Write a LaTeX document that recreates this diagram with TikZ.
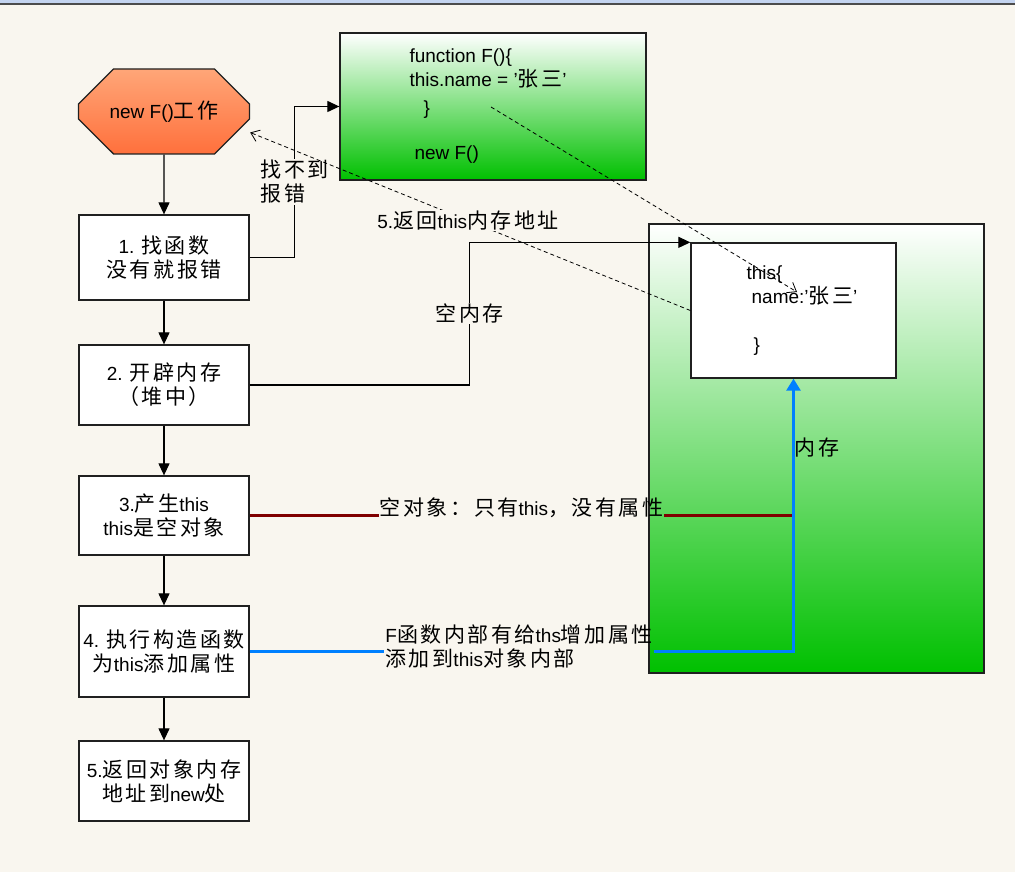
\documentclass[tikz,border=0pt]{standalone}
\usepackage{fontspec}
\setmainfont{Liberation Sans}
\newfontfamily\cjk[LetterSpace=12]{Noto Sans CJK SC}
\newcommand\zh[1]{{\cjk\fontsize{21}{24}\selectfont #1}}
\usetikzlibrary{arrows.meta,shapes.misc,calc}
\definecolor{bg}{RGB}{249,246,239}
\definecolor{topbar}{RGB}{196,212,240}
\definecolor{edge}{RGB}{32,32,32}
\definecolor{darkred}{RGB}{128,0,0}
\definecolor{memblue}{RGB}{0,128,255}
\definecolor{green1}{RGB}{0,192,0}
\definecolor{orange1}{RGB}{255,166,120}
\definecolor{orange2}{RGB}{255,112,60}
\begin{document}
\begin{tikzpicture}[x=1pt,y=-1pt,
    font=\fontsize{19}{24}\selectfont,
    box/.style={draw=edge,line width=1.3pt,fill=white,minimum width=170pt,inner xsep=2pt,align=center},
    greenbox/.style={draw=edge,line width=1.3pt,top color=white,bottom color=green1},
    flow/.style={line width=1.2pt,-{Triangle[width=11pt,length=12pt]}},
    ret/.style={line width=0.8pt,dash pattern=on 4pt off 3pt,-{Straight Barb[length=8pt,width=12pt]}},
    lbl/.style={fill=bg,inner sep=1pt,align=left}]
  \useasboundingbox (0,0) rectangle (1015,872);
  \fill[bg] (0,0) rectangle (1015,872);
  \fill[topbar] (0,0) rectangle (1015,3.3);
  \draw[black!70,line width=2pt] (0,4.3) -- (1015,4.3);
  % steps of new
  \node[chamfered rectangle,chamfered rectangle xsep=29pt,chamfered rectangle ysep=21pt,
    draw=edge,line width=1.3pt,top color=orange1,bottom color=orange2,
    minimum width=171pt,minimum height=85pt] (s) at (164,111.5) {new F()\zh{工作}};
  \node[box,minimum height=85pt] (b1) at (164,257.5) {1. \zh{找函数}\\\zh{没有就报错}};
  \node[box,minimum height=80pt] (b2) at (164,385) {2. \zh{开辟内存}\\\zh{（堆中）}};
  \node[box,minimum height=79pt] (b3) at (164,515.5) {3.\zh{产生}this\\this\zh{是空对象}};
  \node[box,minimum height=91pt] (b4) at (164,651.5) {4. \zh{执行构造函数}\\\zh{为}this\zh{添加属性}};
  \node[box,minimum height=80pt] (b5) at (164,781) {5.\zh{返回对象内存}\\\zh{地址到}new\zh{处}};
  \draw[flow] (s) -- (b1);
  \draw[flow] (b1) -- (b2);
  \draw[flow] (b2) -- (b3);
  \draw[flow] (b3) -- (b4);
  \draw[flow] (b4) -- (b5);
  % function and heap
  \node[greenbox,minimum width=306pt,minimum height=147pt,align=left] (f) at (493,106.5)
    {function F()\{\\this.name = '\zh{张三}'\hspace*{10pt}\mbox{}\\[4pt]\hspace*{14pt}\}\\[21pt]\hspace*{5pt}new F()};
  \node[greenbox,minimum width=335pt,minimum height=449pt] (mem) at (816.5,448.5) {};
  \node[draw=edge,line width=1.3pt,fill=white,minimum width=205pt,minimum height=135pt] (obj) at (793.5,310.5) {};
  \node[align=left] (objtxt) at (802,311) {this\{\\\hspace*{5pt}name:'\zh{张三}'\\[24pt]\hspace*{7pt}\}};
  \draw[flow] (b1.east) -- ++(45,0) |- node[lbl,pos=0.25] (err) {\zh{找不到}\\\zh{报错}} (f.west);
  \draw[flow] (b2.east) -- ++(220,0) |- node[lbl,pos=0.25] (emptymem) {\zh{空内存}} (obj.north west);
  % empty this
  \node[inner sep=1pt] (emptyobj) at ($(b3.east)!0.5!(b3.east -| obj.south)+(0,-8)$) {\zh{空对象：只有}this\zh{，没有属性}};
  \draw[darkred,line width=2.3pt] (b3.east) -- (b3.east -| emptyobj.west);
  \draw[darkred,line width=2.3pt] (b3.east -| emptyobj.east) -- (b3.east -| obj.south);
  % properties
  \node[align=left,inner sep=1pt] (addprop) at (519,646) {F\zh{函数内部有给}ths\zh{增加属性}\\\zh{添加到}this\zh{对象内部}};
  \draw[memblue,line width=2.6pt] (b4.east) -- (b4.east -| addprop.west);
  \draw[memblue,line width=2.6pt,-{Triangle[width=14pt,length=12pt]}] (b4.east -| addprop.east) -|
    node[pos=0.874,anchor=west,inner sep=0pt,text=black] (memlbl) {\zh{内存}} (obj.south);
  % dashed returns
  \coordinate (fb) at (491,107);
  \coordinate (nm) at (797,292);
  \coordinate (sc) at ($(s.east)+(0,21)$);
  \draw[ret] (fb) -- (nm);
  \draw[ret] (obj.west) -- node[lbl,pos=0.505] (back) {5.\zh{返回}this\zh{内存地址}} (sc);
\end{tikzpicture}
\end{document}
